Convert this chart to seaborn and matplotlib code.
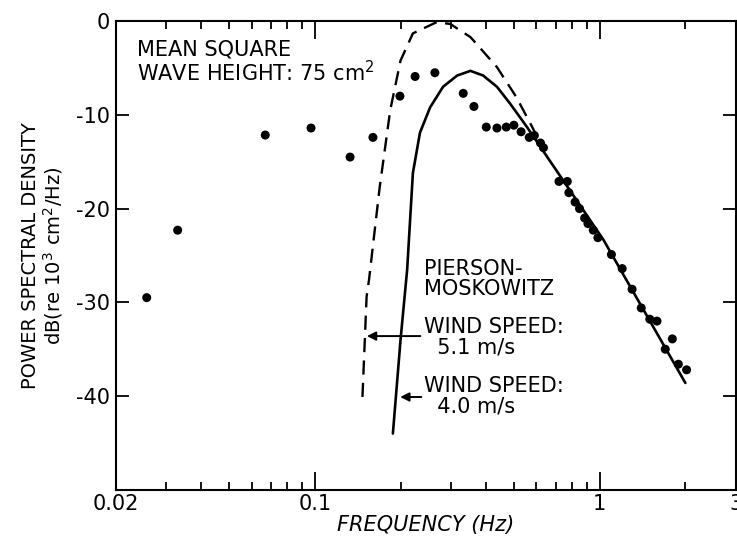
import numpy as np
import pandas as pd
import matplotlib
matplotlib.use("Agg")
import matplotlib.pyplot as plt
from matplotlib.ticker import FixedLocator, NullFormatter
import seaborn as sns

# measured spectrum (dots)
freq_obs = [0.0257, 0.033, 0.067, 0.097, 0.133, 0.160, 0.199, 0.225, 0.264, 0.332,
            0.362, 0.40, 0.436, 0.47, 0.50, 0.53, 0.566, 0.59, 0.62, 0.635,
            0.72, 0.77, 0.78, 0.82, 0.85, 0.886, 0.91, 0.95, 0.986, 1.10,
            1.20, 1.30, 1.40, 1.50, 1.59, 1.70, 1.80, 1.89, 2.02]
psd_obs = [-29.5, -22.3, -12.15, -11.4, -14.5, -12.4, -8.0, -5.9, -5.5, -7.7,
           -9.1, -11.3, -11.4, -11.3, -11.1, -11.8, -12.4, -12.2, -13.0, -13.5,
           -17.1, -17.1, -18.3, -19.3, -20.0, -21.0, -21.6, -22.3, -23.1, -24.9,
           -26.4, -28.6, -30.6, -31.8, -32.0, -35.0, -33.9, -36.6, -37.2]

# Pierson-Moskowitz, wind speed 4.0 m/s (solid)
freq_pm40 = [0.188, 0.200, 0.211, 0.221, 0.234, 0.254, 0.282, 0.316, 0.352, 0.39,
             0.436, 0.485, 0.556, 0.632, 1.03, 2.0]
psd_pm40 = [-44.0, -34.0, -26.5, -16.2, -11.9, -9.2, -7.0, -5.8, -5.3, -5.8,
            -7.0, -8.8, -11.3, -13.8, -23.3, -38.6]

# Pierson-Moskowitz, wind speed 5.1 m/s (dashed)
freq_pm51 = [0.147, 0.152, 0.155, 0.169, 0.184, 0.200, 0.221, 0.268, 0.299, 0.352,
             0.436, 0.51, 0.58, 0.64]
psd_pm51 = [-40.1, -29.4, -27.6, -17.7, -9.5, -4.2, -1.3, -0.1, -0.3, -1.7,
            -4.9, -8.1, -11.3, -13.9]

sns.set_style("ticks")
plt.rcParams["font.family"] = ["DejaVu Sans"]
plt.rcParams["text.color"] = "black"
plt.rcParams["axes.labelcolor"] = "black"

fig = plt.figure(figsize=(7.37, 5.43), dpi=100)
ax = fig.add_axes([0.157, 0.098, 0.841, 0.863])

obs = pd.DataFrame({"f": freq_obs, "db": psd_obs})
pm40 = pd.DataFrame({"f": freq_pm40, "db": psd_pm40})
pm51 = pd.DataFrame({"f": freq_pm51, "db": psd_pm51})

sns.lineplot(data=pm40, x="f", y="db", ax=ax, color="black", lw=1.9, sort=False)
sns.lineplot(data=pm51, x="f", y="db", ax=ax, color="black", lw=1.7, sort=False,
             dashes=False, linestyle=(0, (6, 3.5)))
sns.scatterplot(data=obs, x="f", y="db", ax=ax, color="black", s=42,
                edgecolor="none", zorder=5)

ax.set_xscale("log")
ax.set_xlim(0.02, 3)
ax.set_ylim(-50, 0)

ax.xaxis.set_major_locator(FixedLocator([0.02, 0.1, 1, 3]))
ax.set_xticklabels(["0.02", "0.1", "1", "3"])
minor = [0.03, 0.04, 0.05, 0.06, 0.07, 0.08, 0.09,
         0.2, 0.3, 0.4, 0.5, 0.6, 0.7, 0.8, 0.9, 2]
ax.xaxis.set_minor_locator(FixedLocator(minor))
ax.xaxis.set_minor_formatter(NullFormatter())
ax.set_yticks([0, -10, -20, -30, -40])
ax.set_yticklabels(["0", "-10", "-20", "-30", "-40"])

ax.tick_params(which="both", direction="in", top=True, right=True,
               labelsize=15, width=1.3, colors="black")
ax.tick_params(axis="x", which="major", length=13, pad=3)
ax.tick_params(axis="x", which="minor", length=6)
ax.tick_params(axis="y", which="major", length=9.5, pad=4)
for s in ax.spines.values():
    s.set_linewidth(1.5)
    s.set_color("black")

ax.set_xlabel("FREQUENCY (Hz)", fontsize=15, fontstyle="italic", labelpad=1)
ax.set_ylabel("POWER SPECTRAL DENSITY\ndB(re 10$^3$ cm$^2$/Hz)", fontsize=14,
              labelpad=8, linespacing=1.05)

txt = dict(fontsize=15, va="center", ha="left", linespacing=1.0)
ax.text(0.0237, -4.4, "MEAN SQUARE\nWAVE HEIGHT: 75 cm$^2$", **txt)
ax.text(0.241, -27.5, "PIERSON-\nMOSKOWITZ", **txt)
ax.text(0.241, -33.7, "WIND SPEED:\n  5.1 m/s", **txt)
ax.text(0.241, -40.0, "WIND SPEED:\n  4.0 m/s", **txt)

arrow = dict(arrowstyle="-|>", color="black", lw=1.4, mutation_scale=13)
ax.annotate("", xy=(0.149, -33.6), xytext=(0.240, -33.6), arrowprops=arrow)
ax.annotate("", xy=(0.195, -40.1), xytext=(0.242, -40.1), arrowprops=arrow)

fig.savefig("out.png", dpi=100)
